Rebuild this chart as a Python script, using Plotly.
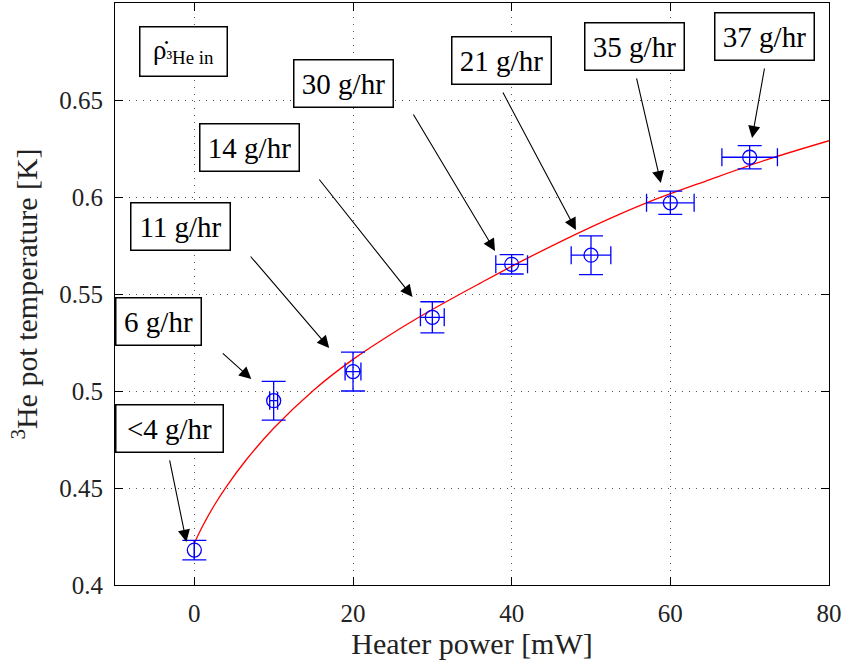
import plotly.graph_objects as go

# measured data
power = [0, 10, 20, 30, 40, 50, 60, 70]
temp = [0.418, 0.495, 0.510, 0.538, 0.5653, 0.570, 0.597, 0.6205]
temp_err = [0.005, 0.010, 0.010, 0.008, 0.005, 0.010, 0.006, 0.006]
power_err = [0, 0.5, 1.0, 1.5, 2.0, 2.5, 3.0, 3.5]

# fitted curve
fit_power = [0, 1, 2.5, 4, 6.5, 10, 15, 20, 25, 30, 36, 42, 50, 57, 65, 72, 80]
fit_temp = [0.4215, 0.4300, 0.4410, 0.4505, 0.4643, 0.4808, 0.5003, 0.5163, 0.5298, 0.5420,
            0.5555, 0.5685, 0.5845, 0.5970, 0.6090, 0.6190, 0.6290]

# flow-rate labels: text, box centre, arrow tail, arrow head
labels = ["&lt;4 g/hr", "6 g/hr", "11 g/hr", "14 g/hr", "30 g/hr", "21 g/hr", "35 g/hr", "37 g/hr"]
label_x = [-3.15, -4.53, -1.76, 6.99, 18.77, 38.73, 55.54, 71.9]
label_y = [0.4807, 0.5356, 0.585, 0.6255, 0.6585, 0.6704, 0.6776, 0.6825]
label_w = [96, 74, 88, 88, 88, 88, 88, 88]
tail_x = [-3.15, 3.4, 6.93, 15.6, 27.5, 38.8, 55.7, 71.9]
tail_y = [0.465, 0.5201, 0.5701, 0.6098, 0.6433, 0.6546, 0.6619, 0.667]
head_x = [-1.0, 7.18, 17.0, 27.5, 37.9, 48.1, 58.8, 70.3]
head_y = [0.4222, 0.5062, 0.5222, 0.5485, 0.5722, 0.583, 0.6072, 0.6304]

x_ticks = [0, 20, 40, 60, 80]
y_ticks = [0.4, 0.45, 0.5, 0.55, 0.6, 0.65]
y_ticktext = ["0.4", "0.45", "0.5", "0.55", "0.6", "0.65"]

FONT = "'Liberation Serif', 'DejaVu Serif', serif"

fig = go.Figure()
fig.add_trace(go.Scatter(
    x=fit_power, y=fit_temp, mode="lines", line=dict(color="red", width=1.3, shape="spline"),
    hoverinfo="skip", showlegend=False))
fig.add_trace(go.Scatter(
    x=power, y=temp, mode="markers",
    marker=dict(symbol="circle-open", size=14, color="blue", line=dict(width=1.3, color="blue")),
    error_y=dict(type="data", array=temp_err, color="blue", thickness=1.3, width=12, visible=True),
    error_x=dict(type="data", array=power_err, color="blue", thickness=1.3, width=9, visible=True),
    showlegend=False))

annotations = []
for t, x, y, w in zip(labels, label_x, label_y, label_w):
    annotations.append(dict(
        x=x, y=y, xref="x", yref="y", text=t, showarrow=False,
        font=dict(family=FONT, size=29, color="black"),
        bgcolor="white", bordercolor="black", borderwidth=1.5, borderpad=5,
        width=w, height=36, xanchor="center", yanchor="middle"))
for tx, ty, hx, hy in zip(tail_x, tail_y, head_x, head_y):
    annotations.append(dict(
        x=hx, y=hy, xref="x", yref="y", ax=tx, ay=ty, axref="x", ayref="y",
        text="", showarrow=True, arrowhead=2, arrowsize=2.2, arrowwidth=1.1,
        arrowcolor="black", standoff=0, startstandoff=0))
annotations.append(dict(
    x=-1.39, y=0.675, xref="x", yref="y",
    text="ρ̇<sub>³He in</sub>", showarrow=False,
    font=dict(family=FONT, size=27, color="black"),
    bgcolor="white", bordercolor="black", borderwidth=1.5, borderpad=5,
    width=76, height=38, xanchor="center", yanchor="middle"))

axis_common = dict(
    showline=True, linecolor="black", linewidth=1.2, mirror="ticks",
    ticks="inside", ticklen=8, tickwidth=1.2, tickcolor="black",
    showgrid=True, gridcolor="#555555", gridwidth=1, griddash="1px,6px",
    zeroline=False, tickfont=dict(family=FONT, size=25, color="#222"),
    automargin=False)

fig.update_layout(
    width=842, height=662,
    margin=dict(l=115, r=13, t=3, b=77),
    paper_bgcolor="white", plot_bgcolor="white",
    font=dict(family=FONT),
    annotations=annotations,
    xaxis=dict(range=[-10, 80], tickvals=x_ticks, ticklabelstandoff=6,
               title=dict(text="Heater power [mW]", font=dict(family=FONT, size=30, color="#222"),
                          standoff=6),
               **axis_common),
    yaxis=dict(range=[0.4, 0.7], tickvals=y_ticks, ticktext=y_ticktext, ticklabelstandoff=6,
               title=dict(text="<sup>3</sup>He pot temperature [K]",
                          font=dict(family=FONT, size=30, color="#222"), standoff=12),
               **axis_common),
)

fig.write_html("out.html", config={"displayModeBar": False},
               post_script="document.body.style.margin='0px';")
